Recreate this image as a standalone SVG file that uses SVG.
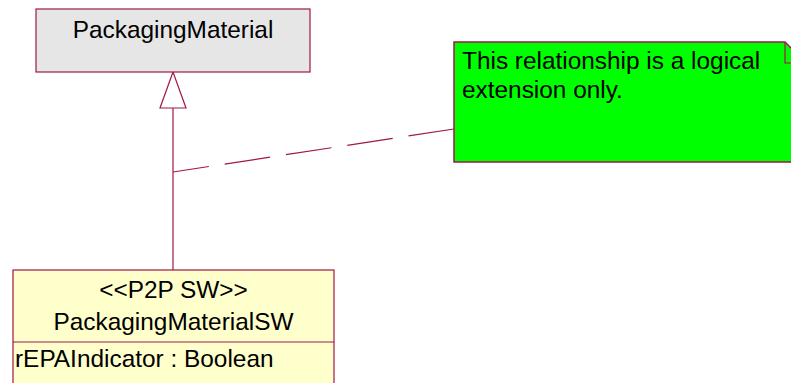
<svg xmlns="http://www.w3.org/2000/svg" width="791" height="383" viewBox="0 0 791 383">
<style>
.t{font-family:"Liberation Sans",Arial,sans-serif;font-size:24.4px;fill:#000}
.ln{stroke:#a0174a;stroke-width:1.2;fill:none}
</style>
<rect width="791" height="383" fill="#fff"/>
<g id="connectors">
<line class="ln" x1="173" y1="108" x2="173" y2="270"/>
<polygon class="ln" points="173,72 160,108 186,108" style="fill:#fff"/>
<path class="ln" d="M454,129 L173,172" stroke-dasharray="46 16"/>
</g>
<g id="PackagingMaterial">
<rect x="36" y="9" width="274" height="63" fill="#e6e6e6" stroke="#a0174a" stroke-width="1.2"/>
<text class="t" x="173" y="38" text-anchor="middle">PackagingMaterial</text>
</g>
<g id="note">
<polygon points="454,42 785,42 806,63 806,162 454,162" fill="#00ff00" stroke="#a0174a" stroke-width="1.5"/>
<polyline class="ln" points="785,42 785,63 806,63"/>
<text class="t" x="462" y="68.5">This relationship is a logical</text>
<text class="t" x="462" y="98">extension only.</text>
</g>
<g id="PackagingMaterialSW">
<rect x="13" y="270" width="321" height="130" fill="#ffffcc" stroke="#a0174a" stroke-width="1.2"/>
<line class="ln" x1="13" y1="342" x2="334" y2="342"/>
<text class="t" x="173.5" y="297.5" text-anchor="middle">&lt;&lt;P2P SW&gt;&gt;</text>
<text class="t" x="173.5" y="330" text-anchor="middle">PackagingMaterialSW</text>
<text class="t" x="15" y="367">rEPAIndicator : Boolean</text>
</g>
</svg>
